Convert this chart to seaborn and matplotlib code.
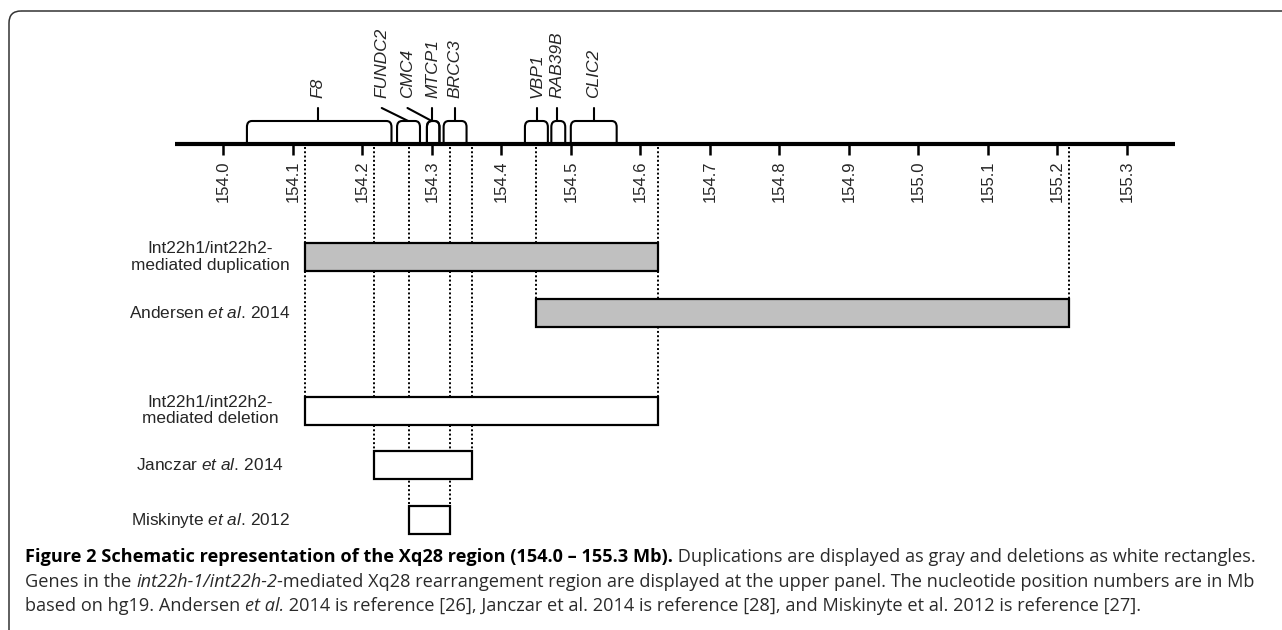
import matplotlib
matplotlib.use("Agg")
import numpy as np
import seaborn as sns
import matplotlib.pyplot as plt
import matplotlib.transforms as mtransforms
from matplotlib.path import Path
from matplotlib.patches import PathPatch, FancyBboxPatch

# genes on Xq28 (positions in Mb, hg19)
gene_names = ["F8", "FUNDC2", "CMC4", "MTCP1", "BRCC3", "VBP1", "RAB39B", "CLIC2"]
gene_start = [154.034, 154.250, 154.293, 154.293, 154.317, 154.434, 154.472, 154.500]
gene_end = [154.242, 154.283, 154.311, 154.311, 154.350, 154.467, 154.492, 154.566]
gene_anchor = [154.136, 154.266, 154.300, 154.301, 154.333, 154.451, 154.480, 154.533]
gene_label_x = [154.136, 154.228, 154.265, 154.301, 154.333, 154.451, 154.480, 154.533]

# ruler ticks
tick_pos = np.round(np.arange(154.0, 155.31, 0.1), 1)
tick_labels = [f"{t:.1f}" for t in tick_pos]

# rearrangements
row_labels = [
    "Int22h1/int22h2-\nmediated duplication",
    r"Andersen $\mathit{et\ al.}\,$2014",
    "Int22h1/int22h2-\nmediated deletion",
    r"Janczar $\mathit{et\ al.}\,$2014",
    r"Miskinyte $\mathit{et\ al.}\,$2012",
]
row_start = [154.117, 154.450, 154.117, 154.217, 154.267]
row_end = [154.625, 155.217, 154.625, 154.358, 154.326]
row_fill = ["#c0c0c0", "#c0c0c0", "white", "white", "white"]

# layout (pixels)
W, H = 1282, 630
X0_PX, PX_PER_MB = 223.3, 695.0
AXIS_Y, BOX_TOP, STEM_TOP, LABEL_BOTTOM = 144, 121, 108, 98
row_y = [257, 312.5, 410.8, 465, 520.3]
BAR_H = 28

sns.set_theme(style="white")
plt.rcParams["font.family"] = ["Liberation Sans", "DejaVu Sans"]
plt.rcParams["mathtext.fontset"] = "custom"
plt.rcParams["mathtext.rm"] = "Liberation Sans"
plt.rcParams["mathtext.it"] = "Liberation Sans:italic"

fig = plt.figure(figsize=(W / 100, H / 100), dpi=100)

# frame / caption axes in pixel coords
fax = fig.add_axes([0, 0, 1, 1])
fax.set_xlim(0, W)
fax.set_ylim(H, 0)
fax.axis("off")
fax.add_patch(FancyBboxPatch((9, 11), 1400, 800, boxstyle="round,pad=0,rounding_size=12",
                             fill=False, ec="#333333", lw=1.1, clip_on=False))

ax = fig.add_axes([0, 0, 1, 1])
ax.set_xlim(154.0 - X0_PX / PX_PER_MB, 154.0 + (W - X0_PX) / PX_PER_MB)
ax.set_ylim(H, 0)
ax.axis("off")

# ruler
ax.plot([153.93, 155.37], [AXIS_Y, AXIS_Y], color="black", lw=3, solid_capstyle="butt", zorder=4)
ax.vlines(tick_pos, AXIS_Y, AXIS_Y + 11, color="black", lw=1.8, zorder=4)
for t, lab in zip(tick_pos, tick_labels):
    ax.text(t, 160, lab, rotation=90, ha="center", va="top", fontsize=12)

# gene brackets
dx = 5 / PX_PER_MB
for name, s, e, a, lx in zip(gene_names, gene_start, gene_end, gene_anchor, gene_label_x):
    verts = [(s, AXIS_Y), (s, BOX_TOP + 6), (s, BOX_TOP), (s + dx, BOX_TOP),
             (e - dx, BOX_TOP), (e, BOX_TOP), (e, BOX_TOP + 6), (e, AXIS_Y)]
    codes = [Path.MOVETO, Path.LINETO, Path.CURVE3, Path.CURVE3,
             Path.LINETO, Path.CURVE3, Path.CURVE3, Path.LINETO]
    ax.add_patch(PathPatch(Path(verts, codes), fill=False, ec="black", lw=1.5, zorder=3))
    ax.plot([a, lx], [BOX_TOP, STEM_TOP], color="black", lw=1.5, zorder=3)
    ax.text(lx, LABEL_BOTTOM, name, rotation=90, ha="center", va="bottom",
            style="italic", fontsize=12.5)

# dotted guide lines: each breakpoint down to the lowest bar that uses it
edges = {}
for i, (s, e) in enumerate(zip(row_start, row_end)):
    for v in (s, e):
        edges[v] = max(edges.get(v, -1), i)
for v, i in edges.items():
    ax.vlines(v, AXIS_Y + 3, row_y[i] - BAR_H / 2, color="black", lw=1.4,
              linestyles=(0, (1, 1.2)), zorder=1)

# bars
ax.barh(row_y, np.array(row_end) - np.array(row_start), left=row_start, height=BAR_H,
        color=row_fill, edgecolor="black", linewidth=1.6, zorder=3)

lab_tr = mtransforms.blended_transform_factory(ax.transAxes, ax.transData)
for lab, y in zip(row_labels, row_y):
    ax.text(210 / W, y, lab, transform=lab_tr, ha="center", va="center",
            multialignment="center", fontsize=12.4, linespacing=1.1)

# caption
cap_font = ["Open Sans", "DejaVu Sans"]
CAP_SIZE = 13.1
caption = [
    [("Figure 2 Schematic representation of the Xq28 region (154.0 \u2013 155.3 Mb).", "bold", "normal"),
     (" Duplications are displayed as gray and deletions as white rectangles.", "normal", "normal")],
    [("Genes in the ", "normal", "normal"), ("int22h-1/int22h-2", "normal", "italic"),
     ("-mediated Xq28 rearrangement region are displayed at the upper panel. The nucleotide position numbers are in Mb",
      "normal", "normal")],
    [("based on hg19. Andersen ", "normal", "normal"), ("et al.", "normal", "italic"),
     (" 2014 is reference [26], Janczar et al. 2014 is reference [28], and Miskinyte et al. 2012 is reference [27].",
      "normal", "normal")],
]
cap_y = [562, 587, 611]
for line, y in zip(caption, cap_y):
    prev = None
    for txt, weight, style in line:
        color = "black" if weight == "bold" else "#2a2a2a"
        if prev is None:
            prev = fax.text(25, y, txt, ha="left", va="baseline", fontsize=CAP_SIZE,
                            fontweight=weight, style=style, family=cap_font, color=color)
        else:
            prev = fax.annotate(txt, xy=(1, 0), xycoords=prev, ha="left", va="bottom",
                                fontsize=CAP_SIZE, fontweight=weight, style=style,
                                family=cap_font, color=color)

fig.savefig("out.png", dpi=100)
